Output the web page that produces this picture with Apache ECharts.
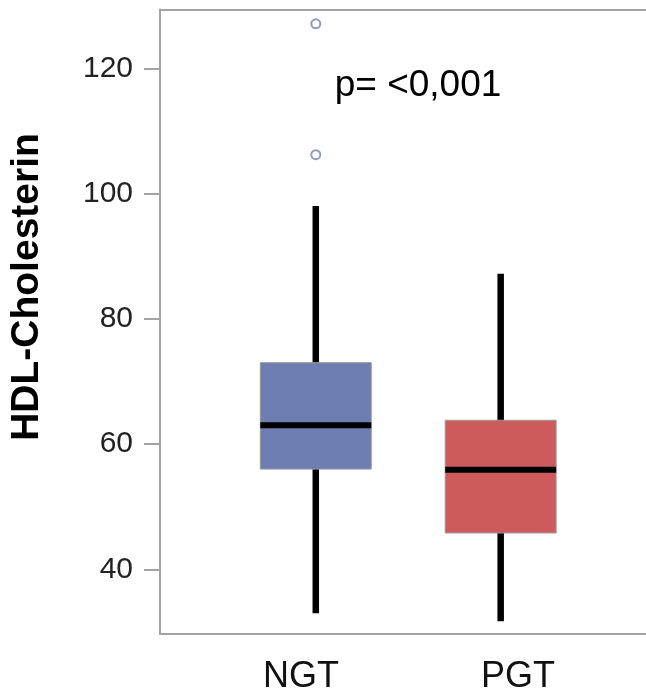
<!DOCTYPE html>
<html>
<head>
<meta charset="utf-8">
<script src="https://cdn.jsdelivr.net/npm/echarts@6/dist/echarts.min.js"></script>
<style>
  html, body { margin: 0; padding: 0; background: #fff; }
  #chart { width: 646px; height: 690px; }
</style>
</head>
<body>
<div id="chart"></div>
<script>
// groups on the x axis (boxes placed at 1, 2)
const categories = ['NGT', 'PGT']
// where the group names sit on the x scale (the source offsets them from the boxes)
const labelPositions = [0.92, 2.094]
// [min, q1, median, q3, max] per group
const boxStats = [
  [33, 56, 63, 73, 98],
  [31.7, 45.8, 55.9, 63.8, 87.2]
]
// [group index, value]
const outliers = [[0, 127.1], [0, 106.2]]
const yTicks = [40, 60, 80, 100, 120]
const boxColors = ['#6e7db2', '#cd5b5b']

const chart = echarts.init(document.getElementById('chart'))

const axisGrey = '#a3a3a3'

const boxSeriesData = boxStats.map((s, i) => [i + 1].concat(s))
const outlierData = outliers.map(o => [o[0] + 1, o[1]])

const option = {
  animation: false,
  grid: {
    left: 160,
    right: 0,
    top: 9.5,
    bottom: 56,
    outerBoundsMode: 'none'
  },
  xAxis: [
    {
      type: 'value',
      position: 'bottom',
      min: 0.1574,
      max: 2.786,
      splitLine: { show: false },
      axisTick: { show: false },
      axisLine: { show: true, lineStyle: { color: axisGrey, width: 2 } },
      axisLabel: {
        customValues: labelPositions,
        formatter: v => categories[labelPositions.indexOf(v)],
        margin: 25,
        fontSize: 36,
        fontFamily: 'Liberation Sans',
        color: '#111'
      }
    },
    {
      type: 'value',
      position: 'top',
      min: 0.1574,
      max: 2.786,
      splitLine: { show: false },
      axisTick: { show: false },
      axisLabel: { show: false },
      axisLine: { show: true, lineStyle: { color: axisGrey, width: 2 } }
    }
  ],
  yAxis: {
    type: 'value',
    min: 29.67,
    max: 129.39,
    splitLine: { show: false },
    axisLine: { show: true, lineStyle: { color: axisGrey, width: 2 } },
    axisTick: {
      show: true,
      length: 16,
      customValues: yTicks,
      lineStyle: { color: axisGrey, width: 2 }
    },
    axisLabel: {
      customValues: yTicks,
      margin: 27,
      fontSize: 30,
      fontFamily: 'Liberation Sans',
      color: '#222'
    }
  },
  graphic: [
    {
      type: 'text',
      x: 27,
      y: 287,
      rotation: Math.PI / 2,
      style: {
        text: 'HDL-Cholesterin',
        font: 'bold 39px "Liberation Sans"',
        fill: '#000',
        align: 'center',
        verticalAlign: 'middle'
      }
    },
    {
      type: 'text',
      x: 418,
      y: 86,
      style: {
        text: 'p= <0,001',
        font: '37px "Liberation Sans"',
        fill: '#000',
        align: 'center',
        verticalAlign: 'middle'
      }
    }
  ],
  series: [
    {
      type: 'custom',
      data: boxSeriesData,
      encode: { x: 0, y: [1, 2, 3, 4, 5] },
      renderItem: (params, api) => {
        const x = api.value(0)
        const pMin = api.coord([x, api.value(1)])
        const pQ1 = api.coord([x, api.value(2)])
        const pMed = api.coord([x, api.value(3)])
        const pQ3 = api.coord([x, api.value(4)])
        const pMax = api.coord([x, api.value(5)])
        const w = api.size([0.6, 0])[0]
        return {
          type: 'group',
          children: [
            {
              type: 'line',
              shape: { x1: pMin[0], y1: pMin[1], x2: pMax[0], y2: pMax[1] },
              style: { stroke: '#000', lineWidth: 6.5 }
            },
            {
              type: 'rect',
              shape: { x: pQ3[0] - w / 2, y: pQ3[1], width: w, height: pQ1[1] - pQ3[1] },
              style: { fill: boxColors[params.dataIndex], stroke: '#9a9a9a', lineWidth: 1 }
            },
            {
              type: 'line',
              shape: { x1: pMed[0] - w / 2, y1: pMed[1], x2: pMed[0] + w / 2, y2: pMed[1] },
              style: { stroke: '#000', lineWidth: 6 }
            }
          ]
        }
      }
    },
    {
      type: 'scatter',
      data: outlierData,
      symbol: 'circle',
      symbolSize: 9,
      itemStyle: { color: '#fff', borderColor: '#7480b8', borderWidth: 2 }
    }
  ]
}

chart.setOption(option)
</script>
</body>
</html>
